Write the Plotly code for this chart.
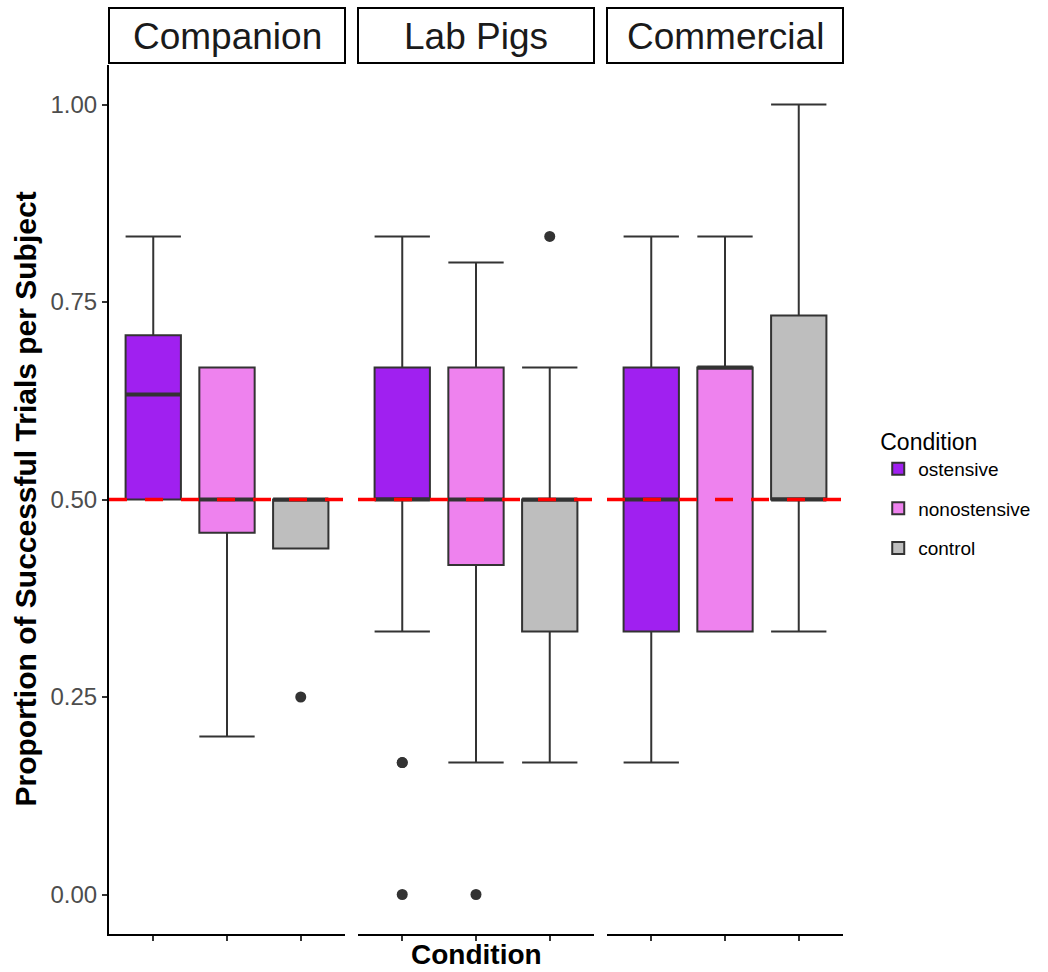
import plotly.graph_objects as go

# Facets, conditions and colours
panels = ["Companion", "Lab Pigs", "Commercial"]
conditions = ["ostensive", "nonostensive", "control"]
fill_colors = ["#A020F0", "#EE82EE", "#BEBEBE"]

# Box statistics per facet, ordered as in `conditions`
lower_fence = {
    "Companion":  [0.500, 0.200, 0.438],
    "Lab Pigs":   [0.333, 0.167, 0.167],
    "Commercial": [0.167, 0.333, 0.333],
}
q1 = {
    "Companion":  [0.500, 0.458, 0.438],
    "Lab Pigs":   [0.500, 0.417, 0.333],
    "Commercial": [0.333, 0.333, 0.500],
}
median = {
    "Companion":  [0.633, 0.500, 0.500],
    "Lab Pigs":   [0.500, 0.500, 0.500],
    "Commercial": [0.500, 0.667, 0.500],
}
q3 = {
    "Companion":  [0.708, 0.667, 0.500],
    "Lab Pigs":   [0.667, 0.667, 0.500],
    "Commercial": [0.667, 0.667, 0.733],
}
upper_fence = {
    "Companion":  [0.833, 0.667, 0.500],
    "Lab Pigs":   [0.833, 0.800, 0.667],
    "Commercial": [0.833, 0.833, 1.000],
}
outliers = {
    "Companion":  [[], [], [0.25]],
    "Lab Pigs":   [[0.167, 0.167, 0.0], [0.0], [0.833]],
    "Commercial": [[], [], []],
}
chance_level = 0.5
y_ticks = [0.0, 0.25, 0.5, 0.75, 1.0]
y_tick_labels = ["0.00", "0.25", "0.50", "0.75", "1.00"]

BOX_W = 0.75
FONT = "Liberation Sans, Arial, sans-serif"
EDGE = "#333333"

fig = go.Figure()

for p_idx, panel in enumerate(panels):
    xa = "x" if p_idx == 0 else f"x{p_idx + 1}"
    for c_idx, cond in enumerate(conditions):
        pos = c_idx + 1
        fig.add_trace(go.Box(
            x=[pos],
            q1=[q1[panel][c_idx]],
            median=[median[panel][c_idx]],
            q3=[q3[panel][c_idx]],
            lowerfence=[lower_fence[panel][c_idx]],
            upperfence=[upper_fence[panel][c_idx]],
            width=BOX_W,
            whiskerwidth=1,
            fillcolor=fill_colors[c_idx],
            line=dict(color=EDGE, width=2),
            name=cond,
            legendgroup=cond,
            showlegend=(p_idx == 0),
            boxpoints=False,
            xaxis=xa, yaxis="y",
            hoverinfo="skip",
        ))
        # heavier median bar
        m = median[panel][c_idx]
        fig.add_trace(go.Scatter(
            x=[pos - BOX_W / 2, pos + BOX_W / 2], y=[m, m],
            mode="lines", line=dict(color=EDGE, width=4),
            showlegend=False, legendgroup=cond, hoverinfo="skip",
            xaxis=xa, yaxis="y",
        ))
        pts = outliers[panel][c_idx]
        if pts:
            fig.add_trace(go.Scatter(
                x=[pos] * len(pts), y=pts, mode="markers",
                marker=dict(color=EDGE, size=11),
                showlegend=False, legendgroup=cond, hoverinfo="skip",
                xaxis=xa, yaxis="y",
            ))
    # chance line within each facet
    fig.add_shape(type="line", xref=f"{xa} domain", yref="y",
                  x0=0, x1=1, y0=chance_level, y1=chance_level,
                  line=dict(color="#FF0000", width=3.5, dash="18px,18px"),
                  layer="above")

# facet layout
total_w = 734.0
domains = [(0, 236 / total_w), (249 / total_w, 485 / total_w), (498 / total_w, 1)]
plot_h = 869.0

axis_common = dict(
    range=[0.4, 3.6], tickvals=[1, 2, 3], ticktext=["", "", ""],
    ticks="outside", ticklen=5, tickwidth=1.5, tickcolor=EDGE,
    showline=True, linecolor="black", linewidth=2,
    showgrid=False, zeroline=False, fixedrange=True,
)
layout_axes = {}
for i, dom in enumerate(domains):
    key = "xaxis" if i == 0 else f"xaxis{i + 1}"
    layout_axes[key] = dict(axis_common, domain=list(dom), anchor="y")

for i, (panel, dom) in enumerate(zip(panels, domains)):
    fig.add_shape(type="rect", xref="paper", yref="paper",
                  x0=dom[0], x1=dom[1],
                  y0=1 + 2 / plot_h, y1=1 + 57 / plot_h,
                  line=dict(color="black", width=2), fillcolor="white")
    fig.add_annotation(x=(dom[0] + dom[1]) / 2, y=1 + 29 / plot_h,
                       xref="paper", yref="paper", text=panel, showarrow=False,
                       font=dict(family=FONT, size=37, color="#1A1A1A"),
                       xanchor="center", yanchor="middle")

fig.add_annotation(x=-84 / total_w, y=0.5, xref="paper", yref="paper",
                   text="<b>Proportion of Successful Trials per Subject</b>",
                   textangle=-90, showarrow=False,
                   font=dict(family=FONT, size=30, color="black"),
                   xanchor="center", yanchor="middle")
fig.add_annotation(x=0.5, y=-20 / plot_h, xref="paper", yref="paper",
                   text="<b>Condition</b>", showarrow=False,
                   font=dict(family=FONT, size=28, color="black"),
                   xanchor="center", yanchor="middle")

fig.update_layout(
    width=1048, height=972,
    margin=dict(l=109, r=205, t=65, b=38),
    paper_bgcolor="white", plot_bgcolor="white",
    font=dict(family=FONT),
    boxmode="overlay",
    yaxis=dict(range=[-0.05, 1.05], tickvals=y_ticks, ticktext=y_tick_labels,
               ticks="outside", ticklen=5, tickwidth=1.5, tickcolor=EDGE,
               tickfont=dict(family=FONT, size=24, color="#4D4D4D"),
               showline=True, linecolor="black", linewidth=2,
               showgrid=False, zeroline=False, anchor="x", fixedrange=True),
    legend=dict(
        title=dict(text="Condition", font=dict(family=FONT, size=23, color="black")),
        font=dict(family=FONT, size=19, color="black"),
        x=1.048, y=0.507, xanchor="left", yanchor="middle",
        tracegroupgap=12, itemsizing="constant",
    ),
    **layout_axes,
)

fig.write_html("out.html")
